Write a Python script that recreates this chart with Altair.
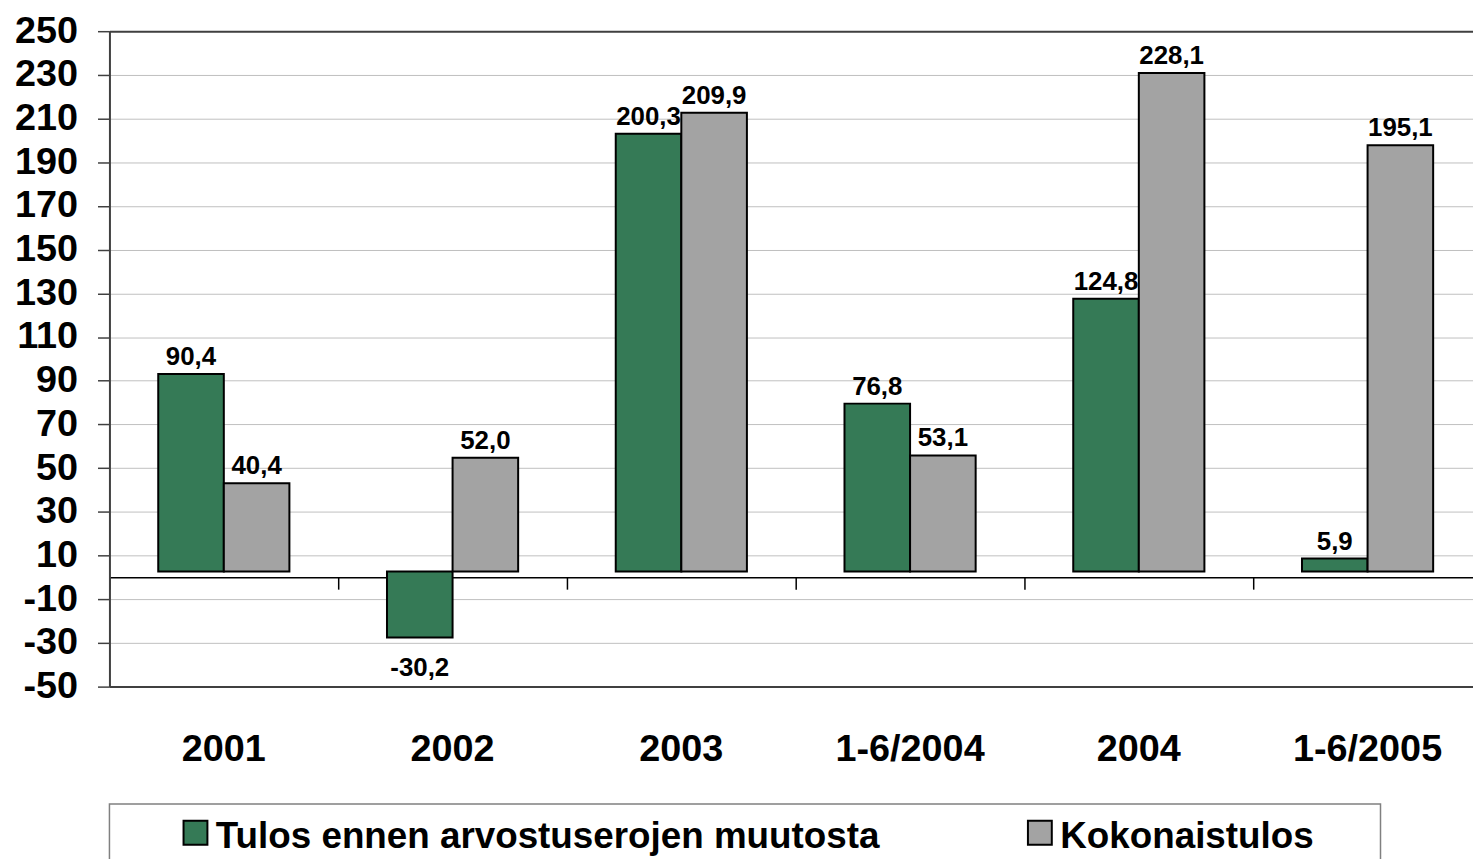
import altair as alt
import pandas as pd

categories = ["2001", "2002", "2003", "1-6/2004", "2004", "1-6/2005"]
series_names = ["Tulos ennen arvostuserojen muutosta", "Kokonaistulos"]
tulos = [90.4, -30.2, 200.3, 76.8, 124.8, 5.9]
kokonais = [40.4, 52.0, 209.9, 53.1, 228.1, 195.1]
y_ticks = list(range(-50, 251, 20))
colors = ["#357a56", "#a3a3a3"]

rows = []
for i, c in enumerate(categories):
    for s, vals in zip(series_names, [tulos, kokonais]):
        v = vals[i]
        rows.append({"cat": c, "series": s, "value": v,
                     "label": f"{v:.1f}".replace(".", ",")})
df = pd.DataFrame(rows)

FONT = "Liberation Sans"

x_enc = alt.X("cat:N", sort=categories,
              scale=alt.Scale(paddingInner=0, paddingOuter=0, range=[0, 1380]),
              axis=alt.Axis(title=None, grid=False, domain=True, domainColor="black",
                            domainWidth=1.5, ticks=True, tickColor="black", tickWidth=1.5,
                            tickSize=12, bandPosition=0, offset=-110,
                            labelFontSize=38, labelFont=FONT, labelFontWeight="bold",
                            labelColor="black", labelPadding=172, labelBaseline="alphabetic",
                            labelAngle=0))
xo_enc = alt.XOffset("series:N", sort=series_names,
                     scale=alt.Scale(paddingInner=0, paddingOuter=0.744))
grid_test = "datum.value == 250 || datum.value == -50"
y_enc = alt.Y("value:Q",
              scale=alt.Scale(domain=[-50, 250], nice=False, zero=False),
              axis=alt.Axis(title=None, values=y_ticks, domainColor="#404040", domainWidth=2,
                            tickColor="#404040", tickWidth=1.5, tickSize=12,
                            labelFontSize=38, labelFont=FONT, labelFontWeight="bold",
                            labelColor="black", labelPadding=20, labelOverlap=False,
                            labelExpr="'' + datum.value",
                            gridColor={"condition": {"test": grid_test, "value": "#404040"},
                                       "value": "#c0c0c0"},
                            gridWidth={"condition": {"test": grid_test, "value": 2},
                                       "value": 1}))

base = alt.Chart(df)

bars = base.mark_bar(stroke="black", strokeWidth=2, yOffset=-6, opacity=1).encode(
    x=x_enc, xOffset=xo_enc, y=y_enc,
    color=alt.Color("series:N", sort=series_names,
                    scale=alt.Scale(domain=series_names, range=colors),
                    legend=alt.Legend(orient="none", legendX=68, legendY=792,
                                      direction="horizontal", title=None,
                                      symbolType="M-1,-1.4H1V0.6H-1Z", symbolSize=576,
                                      symbolStrokeColor="black", symbolStrokeWidth=2,
                                      symbolOpacity=1,
                                      labelFontSize=37, labelFont=FONT,
                                      labelFontWeight="bold", labelColor="black",
                                      labelOffset=2, labelLimit=1000, columnPadding=142))
)

text_pos = base.transform_filter("datum.value >= 0").mark_text(
    font=FONT, fontSize=26, fontWeight="bold", color="black",
    baseline="alphabetic", align="center", dy=-15).encode(
    x=x_enc, xOffset=xo_enc, y=y_enc, text="label:N")

text_neg = base.transform_filter("datum.value < 0").mark_text(
    font=FONT, fontSize=26, fontWeight="bold", color="black",
    baseline="alphabetic", align="center", dy=33).encode(
    x=x_enc, xOffset=xo_enc, y=y_enc, text="label:N")

frame = alt.Chart(pd.DataFrame({"f": [0]})).mark_rect(
    filled=False, stroke="#808080", strokeWidth=1.5).encode(
    x=alt.value(0), x2=alt.value(1278), y=alt.value(777), y2=alt.value(900))

chart = alt.layer(frame, bars, text_pos, text_neg).properties(
    width=1371, height=659,
    padding={"left": 102, "top": 21, "right": 0, "bottom": 171},
    autosize=alt.AutoSizeParams(type="none"),
).configure_view(stroke=None).configure(background="white")

chart.save("out.html", embed_options={"renderer": "svg", "actions": False})
